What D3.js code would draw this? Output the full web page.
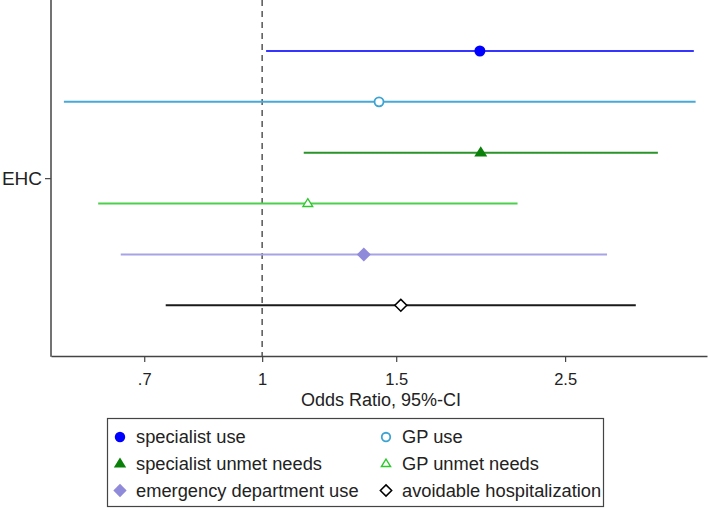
<!DOCTYPE html>
<html><head><meta charset="utf-8">
<script src="https://cdn.jsdelivr.net/npm/d3@7"></script>
<style>body{margin:0;background:#fff}svg{display:block;font-family:"Liberation Sans",Arial,sans-serif}</style>
</head><body><svg id="c" width="708" height="509"></svg>
<script>
const outcomes = ["specialist use","GP use","specialist unmet needs","GP unmet needs","emergency department use","avoidable hospitalization"];
const oddsRatio = [1.932, 1.424, 1.937, 1.148, 1.360, 1.521];
const ciLower = [1.012, 0.549, 1.134, 0.609, 0.652, 0.747];
const ciUpper = [3.69, 3.71, 3.31, 2.165, 2.838, 3.096];
const xTicks = [0.7, 1, 1.5, 2.5];
const xTickLabels = [".7", "1", "1.5", "2.5"];
const yCategory = ["EHC"];
const colors = ["#0000ff","#3ca3d3","#0a800a","#2ec82e","#8f8ad9","#000000"];
const lineColors = ["#3535ff","#45aad8","#2a932a","#4ccf4c","#a7a3e6","#1a1a1a"];
const shapes = ["circle","circleHollow","triangle","triangleHollow","diamond","diamondHollow"];

const svg = d3.select("#c");
const x = d3.scaleLog().domain([0.528, 3.84]).range([51, 707]);
const y = d3.scaleLinear().domain([0, 5]).range([51, 305.3]);

// axes
const xAxis = d3.axisBottom(x).tickValues(xTicks).tickFormat((d,i)=>xTickLabels[i]).tickSize(6).tickSizeOuter(0);
const gx = svg.append("g").attr("transform","translate(0,356)").call(xAxis);
gx.select(".domain").attr("stroke","#444").attr("stroke-width",1.5);
gx.selectAll(".tick line").attr("stroke","#444").attr("stroke-width",1.2);
gx.selectAll(".tick text").attr("font-size",16.5).attr("fill","#222").attr("dy","1.2em").attr("font-family","Liberation Sans, Arial, sans-serif");

const yCat = d3.scalePoint().domain(yCategory).range([y(2.5), y(2.5)]);
const yAxis = d3.axisLeft(yCat).tickSize(6).tickSizeOuter(0);
const gy = svg.append("g").attr("transform","translate(51,0)").call(yAxis);
gy.select(".domain").remove();
gy.selectAll(".tick line").attr("stroke","#444").attr("stroke-width",1.2);
gy.selectAll(".tick text").attr("font-size",19).attr("fill","#222").attr("x",-9).attr("font-family","Liberation Sans, Arial, sans-serif");
svg.append("line").attr("x1",51).attr("x2",51).attr("y1",0).attr("y2",356.75).attr("stroke","#444").attr("stroke-width",1.5);

svg.append("text").attr("x",(51+707)/2 + 2).attr("y",406).attr("text-anchor","middle")
  .attr("font-size",18).attr("fill","#222").text("Odds Ratio, 95%-CI");

// reference line
svg.append("line").attr("x1",x(1)).attr("x2",x(1)).attr("y1",0).attr("y2",356)
  .attr("stroke","#555").attr("stroke-width",1.5).attr("stroke-dasharray","6,5");

function drawMarker(g, shape, cx, cy, color, s) {
  const k = s || 1;
  if (shape === "circle") g.append("circle").attr("cx",cx).attr("cy",cy).attr("r",5.5*k).attr("fill",color);
  else if (shape === "circleHollow") g.append("circle").attr("cx",cx).attr("cy",cy).attr("r",4.5*k).attr("fill","#fff").attr("stroke",color).attr("stroke-width",1.8);
  else if (shape.startsWith("triangle")) {
    const h = 6.5*k;
    const pts = [[cx, cy-h],[cx+h*1.0, cy+h*0.6],[cx-h*1.0, cy+h*0.6]];
    const p = g.append("polygon").attr("points", pts.map(p=>p.join(",")).join(" "));
    if (shape === "triangle") p.attr("fill",color);
    else p.attr("fill","#fff").attr("stroke",color).attr("stroke-width",1.8).attr("transform",`translate(${cx},${cy}) scale(0.75) translate(${-cx},${-cy})`);
  } else {
    const r = 7*k;
    const pts = [[cx, cy-r],[cx+r, cy],[cx, cy+r],[cx-r, cy]];
    const p = g.append("polygon").attr("points", pts.map(p=>p.join(",")).join(" "));
    if (shape === "diamond") p.attr("fill",color);
    else p.attr("fill","#fff").attr("stroke",color).attr("stroke-width",1.8).attr("transform",`translate(${cx},${cy}) scale(0.85) translate(${-cx},${-cy})`);
  }
}

const plot = svg.append("g");
outcomes.forEach((o,i)=>{
  plot.append("line").attr("x1",x(ciLower[i])).attr("x2",x(ciUpper[i])).attr("y1",y(i)).attr("y2",y(i))
    .attr("stroke",lineColors[i]).attr("stroke-width",2);
  drawMarker(plot, shapes[i], x(oddsRatio[i]), y(i), colors[i]);
});

// legend
svg.append("rect").attr("x",107.5).attr("y",418.5).attr("width",496).attr("height",88)
  .attr("fill","#fff").attr("stroke","#444").attr("stroke-width",1.2);
const colX = [120, 386], textX = [136, 402];
const rowY = d3.scaleLinear().domain([0,2]).range([437, 490.5]);
outcomes.forEach((o,i)=>{
  const c = i % 2, r = Math.floor(i/2);
  const lg = svg.append("g");
  drawMarker(lg, shapes[i], colX[c], rowY(r), colors[i], 0.95);
  lg.append("text").attr("x",textX[c]).attr("y",rowY(r)).attr("dy","0.35em")
    .attr("font-size",18.3).attr("fill","#222").text(o);
});
</script></body></html>
